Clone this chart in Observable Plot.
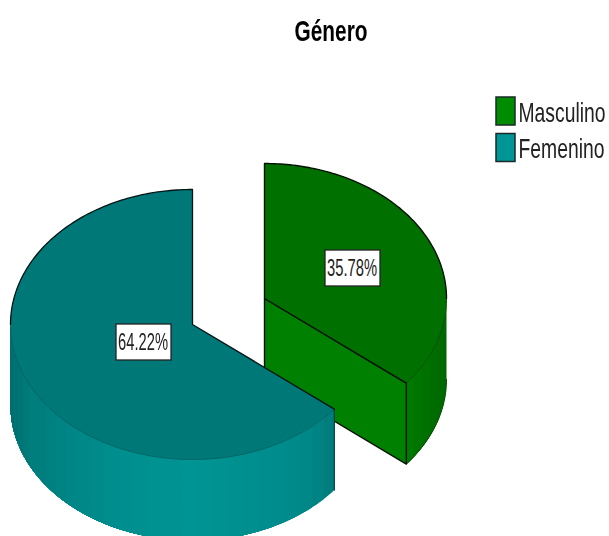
<!DOCTYPE html>
<html><head><meta charset="utf-8">
<script src="https://cdn.jsdelivr.net/npm/d3@7"></script>
<script src="https://cdn.jsdelivr.net/npm/@observablehq/plot@0.6"></script>
<style>html,body{margin:0;padding:0;background:#fff;overflow:hidden}svg{filter:blur(0.55px)}</style>
</head><body><div id="chart"></div>
<script>
const title = "Género";
const categories = ["Masculino", "Femenino"];
const shares = [35.78, 64.22];
const labels = ["35.78%", "64.22%"];

const W = 609, H = 536, RX = 182, RY = 135, DEPTH = 81;
const FONT = "'Liberation Sans',sans-serif";
const centers = {Masculino: {cx: 264, cy: 298}, Femenino: {cx: 192, cy: 324}};
const labelPos = {Masculino: {x: 352.5, y: 268}, Femenino: {x: 143.5, y: 342}};
const legendY = {Masculino: 111, Femenino: 147.5};
const textWidths = {"Género": 73, "Masculino": 87, "Femenino": 86, "35.78%": 50, "64.22%": 50};
const splitDeg = shares[0] / 100 * 360;

const pt = (c, deg, dy = 0) => {
  const a = deg * Math.PI / 180;
  return {x: c.cx + RX * Math.sin(a), y: c.cy - RY * Math.cos(a) + dy};
};
const arc = (c, a, b, dy = 0, step = 1) => {
  const n = Math.max(1, Math.round(Math.abs(b - a) / step));
  return d3.range(n + 1).map(i => pt(c, a + (b - a) * i / n, dy));
};
const wedge = (c, a, b) => [{x: c.cx, y: c.cy}, ...arc(c, a, b), {x: c.cx, y: c.cy}];
const M = centers.Masculino, F = centers.Femenino;

function wallStrips(c, a, b, step, colorAt) {
  const rows = [];
  let id = 0;
  for (let s = a; s < b - 1e-6; s += step) {
    const col = colorAt(Math.min(b, s + step / 2), c);
    // each strip reaches to the wall's far end so later strips overpaint it without seams
    const poly = [...arc(c, s, b), ...arc(c, b, s, DEPTH)];
    poly.push(poly[0]);
    poly.forEach(p => rows.push({...p, id, col}));
    id++;
  }
  return rows;
}
const tealRamp = d3.scaleLinear()
  .domain([10, 30, 100, 190, 300, 334])
  .range(["#006e6e", "#007c7c", "#008c8c", "#009494", "#008a8a", "#007c7c"]);
const greenRamp = d3.scaleLinear().domain([406, 447]).range(["#007a00", "#006600"]);
const tealAt = (deg, c) => tealRamp(pt(c, deg).x);
const greenAt = (deg, c) => greenRamp(pt(c, deg).x);

const greenCut = [{x: M.cx, y: M.cy}, pt(M, splitDeg), pt(M, splitDeg, DEPTH), {x: M.cx, y: M.cy + DEPTH}, {x: M.cx, y: M.cy}];
const lineOpts = {x: "x", y: "y", curve: "linear"};

const chart = Plot.plot({
  width: W, height: H, margin: 0,
  x: {domain: [0, W], axis: null},
  y: {domain: [H, 0], axis: null},
  color: {type: "identity"},
  marks: [
    // Masculino
    Plot.line(wallStrips(M, 90, splitDeg, 5, greenAt), {...lineOpts, z: "id", fill: "col", stroke: "none"}),
    Plot.line(arc(M, 90, splitDeg, DEPTH), {...lineOpts, stroke: "#005000", strokeWidth: 1}),
    Plot.line(greenCut, {...lineOpts, fill: "#008000", stroke: "#001000", strokeWidth: 1.4}),
    Plot.line(wedge(M, 0, splitDeg), {...lineOpts, fill: "#007000", stroke: "none"}),
    Plot.line(arc(M, 90, splitDeg), {...lineOpts, stroke: "#005000", strokeWidth: 1}),
    Plot.line([pt(M, splitDeg), {x: M.cx, y: M.cy}, ...arc(M, 0, 90)], {...lineOpts, stroke: "#001000", strokeWidth: 1.4}),
    // Femenino
    Plot.line(wallStrips(F, splitDeg, 270, 5, tealAt), {...lineOpts, z: "id", fill: "col", stroke: "none"}),
    Plot.line(wedge(F, splitDeg, 360), {...lineOpts, fill: "#007878", stroke: "none"}),
    Plot.line(arc(F, splitDeg, 270), {...lineOpts, stroke: "#005e5e", strokeWidth: 0.8}),
    Plot.line([pt(F, splitDeg), pt(F, splitDeg, DEPTH)], {...lineOpts, stroke: "#003c3c", strokeWidth: 1.2}),
    Plot.line([pt(F, splitDeg), {x: F.cx, y: F.cy}, pt(F, 360), ...arc(F, 360, 270)], {...lineOpts, stroke: "#001414", strokeWidth: 1.3}),
    // Value labels
    Plot.rect(categories, {
      x1: d => labelPos[d].x - 27.5, x2: d => labelPos[d].x + 27.5,
      y1: d => labelPos[d].y - 18, y2: d => labelPos[d].y + 18,
      fill: "#fff", stroke: "#222", strokeWidth: 1.3
    }),
    Plot.text(categories, {
      x: d => labelPos[d].x - 1, y: d => labelPos[d].y,
      text: d => labels[categories.indexOf(d)],
      fontFamily: FONT, fontSize: 23, fill: "#222"
    }),
    // Legend
    Plot.rect(categories, {
      x1: 496, x2: 515,
      y1: d => legendY[d] - 14, y2: d => legendY[d] + 14,
      fill: d => d === categories[0] ? "#008c00" : "#009696",
      stroke: "#1a2a2a", strokeWidth: 1.5
    }),
    Plot.text(categories, {
      x: () => 518, y: d => legendY[d] + 1.5, text: d => d, textAnchor: "start",
      fontFamily: FONT, fontSize: 27, fill: "#222"
    }),
    // Title
    Plot.text([title], {
      x: () => 330.5, y: () => 31, text: d => d,
      fontFamily: FONT, fontSize: 29, fontWeight: "bold", fill: "#000"
    })
  ]
});
document.getElementById("chart").appendChild(chart);
// The reference's lettering is condensed: squeeze each text horizontally to its measured width
d3.select(chart).selectAll("text").each(function() {
  const w = textWidths[this.textContent];
  if (w) {
    const sx = w / this.getComputedTextLength();
    const t = this.getAttribute("transform") || "";
    this.setAttribute("transform", `${t} scale(${sx},1)`);
  }
});
</script>
</body></html>
